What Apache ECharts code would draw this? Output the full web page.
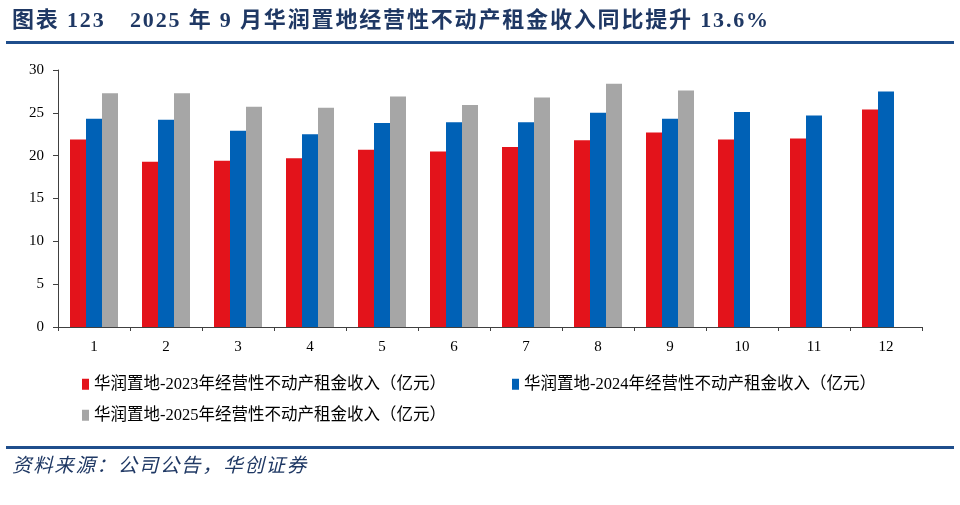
<!DOCTYPE html>
<html><head><meta charset="utf-8">
<script src="https://cdn.jsdelivr.net/npm/echarts@6/dist/echarts.min.js"></script>
<style>html,body{margin:0;padding:0;background:#fff}#c{width:960px;height:505px}</style>
</head><body><div id="c"></div>
<script>
const months = ['1','2','3','4','5','6','7','8','9','10','11','12'];
const rent2023 = [21.9,19.3,19.4,19.7,20.7,20.5,21.0,21.8,22.7,21.9,22.0,25.4];
const rent2024 = [24.3,24.2,22.9,22.5,23.8,23.9,23.9,25.0,24.3,25.1,24.7,27.5];
const rent2025 = [27.3,27.3,25.7,25.6,26.9,25.9,26.8,28.4,27.6,null,null,null];
const seriesNames = ['华润置地-2023年经营性不动产租金收入（亿元）','华润置地-2024年经营性不动产租金收入（亿元）','华润置地-2025年经营性不动产租金收入（亿元）'];
const yTicks = [0,5,10,15,20,25,30];
const titleLabel = '图表 123';
const titleText = '2025 年 9 月华润置地经营性不动产租金收入同比提升 13.6%';
const sourceText = '资料来源：公司公告，华创证券';

const FONT = "'Liberation Serif','Noto Sans CJK SC',serif";
const navy = '#1F3864';
const HS = '\u200A';
const spaced = s => s.split('').join(HS);
const chart = echarts.init(document.getElementById('c'));
const legendText = {fontFamily: FONT, fontSize: 16.5, color: '#000'};
const mkLegend = (name, left, top) => ({
  data: [name], left: left, top: top, icon: 'rect', itemWidth: 7, itemHeight: 11,
  itemGap: 4, textStyle: legendText, selectedMode: false, padding: 0
});
chart.setOption({
  animation: false,
  graphic: [
    {type: 'text', left: 12, top: 10, style: {text: spaced(titleLabel), font: "bold 22px " + FONT, fill: navy}},
    {type: 'text', left: 130, top: 10, style: {text: spaced(titleText), font: "bold 22px " + FONT, fill: navy}},
    {type: 'rect', shape: {x: 6, y: 41, width: 948, height: 3}, style: {fill: '#1F4E8C'}},
    {type: 'rect', shape: {x: 6, y: 446, width: 948, height: 3}, style: {fill: '#1F4E8C'}},
    {type: 'text', left: 12, top: 457, style: {text: spaced(sourceText), font: "italic 19.5px " + FONT, fill: navy}}
  ],
  legend: [
    mkLegend(seriesNames[0], 82, 376),
    mkLegend(seriesNames[1], 512, 376),
    mkLegend(seriesNames[2], 82, 407)
  ],
  grid: {left: 58, right: 38, top: 70, bottom: 178},
  xAxis: {
    type: 'category', data: months,
    axisLine: {lineStyle: {color: '#404040', width: 1}},
    axisTick: {show: true, alignWithLabel: false, length: 4, lineStyle: {color: '#404040'}},
    axisLabel: {fontFamily: FONT, fontSize: 15, color: '#000', margin: 13}
  },
  yAxis: {
    type: 'value', min: 0, max: 30, interval: 5,
    splitLine: {show: false},
    axisLine: {show: true, lineStyle: {color: '#404040', width: 1}},
    axisTick: {show: true, length: 5, lineStyle: {color: '#404040'}},
    axisLabel: {fontFamily: FONT, fontSize: 15, color: '#000', margin: 14,
      formatter: v => yTicks.includes(v) ? String(v) : ''}
  },
  series: [
    {name: seriesNames[0], type: 'bar', data: rent2023, barWidth: 16, barGap: '0%', itemStyle: {color: '#E3131B'}},
    {name: seriesNames[1], type: 'bar', data: rent2024, barWidth: 16, barGap: '0%', itemStyle: {color: '#0061B6'}},
    {name: seriesNames[2], type: 'bar', data: rent2025, barWidth: 16, barGap: '0%', itemStyle: {color: '#A6A6A6'}}
  ]
});
</script></body></html>
